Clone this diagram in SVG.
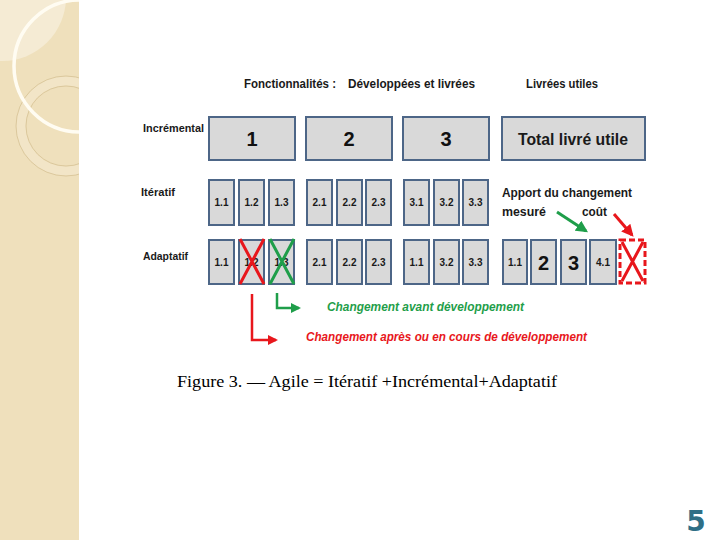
<svg xmlns="http://www.w3.org/2000/svg" width="720" height="540" viewBox="0 0 720 540">
<defs>
<style>
.bx{fill:#d9d9d9;stroke:#4d6687;stroke-width:2}
.lbl{font-family:"Liberation Sans",Arial,sans-serif;font-weight:bold;fill:#1a1a1a}
.sm{font-family:"Liberation Sans",Arial,sans-serif;font-weight:bold;font-size:10px;fill:#1a1a1a;text-anchor:middle}
.big{font-family:"Liberation Sans",Arial,sans-serif;font-weight:bold;font-size:20px;fill:#111;text-anchor:middle}
.xr{stroke:#e8171c;stroke-width:3;fill:none}
.xg{stroke:#1f9e4a;stroke-width:3;fill:none}
</style>
<marker id="ag" viewBox="0 0 10 10" refX="8" refY="5" markerWidth="4" markerHeight="4" orient="auto"><path d="M0,0L10,5L0,10z" fill="#1f9e4a"/></marker>
<marker id="ar" viewBox="0 0 10 10" refX="8" refY="5" markerWidth="4" markerHeight="4" orient="auto"><path d="M0,0L10,5L0,10z" fill="#e8171c"/></marker>
<clipPath id="side"><rect x="0" y="0" width="79" height="540"/></clipPath>
</defs>
<rect width="720" height="540" fill="#fff"/>
<g id="sidebar" clip-path="url(#side)">
<rect x="0" y="0" width="79" height="540" fill="#efe0bc"/>
<circle cx="2" cy="-3" r="64" fill="#f5ebd4"/>
<circle cx="66" cy="126" r="45" fill="none" stroke="#f2e5c7" stroke-width="9"/>
<circle cx="66" cy="126" r="50" fill="none" stroke="#d6c194" stroke-width="0.8"/>
<circle cx="66" cy="126" r="40" fill="none" stroke="#d6c194" stroke-width="0.8"/>
<circle cx="80" cy="66" r="66" fill="none" stroke="#fffcf2" stroke-width="3.5"/>
</g>
<g id="header" class="lbl" font-size="12">
<text x="244" y="88" textLength="92" lengthAdjust="spacingAndGlyphs">Fonctionnalités :</text>
<text x="348" y="88" textLength="127" lengthAdjust="spacingAndGlyphs">Développées et livrées</text>
<text x="526" y="88" textLength="72" lengthAdjust="spacingAndGlyphs">Livrées utiles</text>
</g>
<g id="rowlabels" class="lbl" font-size="11">
<text x="143" y="132" textLength="61" lengthAdjust="spacingAndGlyphs">Incrémental</text>
<text x="141" y="196" textLength="34" lengthAdjust="spacingAndGlyphs">Itératif</text>
<text x="143" y="260" textLength="45" lengthAdjust="spacingAndGlyphs">Adaptatif</text>
</g>
<g id="incremental">
<g id="inc1"><rect class="bx" x="209" y="117" width="86" height="43"/><text class="big" x="252" y="146">1</text></g>
<g id="inc2"><rect class="bx" x="306" y="117" width="86" height="43"/><text class="big" x="349" y="146">2</text></g>
<g id="inc3"><rect class="bx" x="403" y="117" width="86" height="43"/><text class="big" x="446" y="146">3</text></g>
<g id="total"><rect class="bx" x="502" y="117" width="143" height="43"/><text class="lbl" x="573" y="145" font-size="17" text-anchor="middle" textLength="110" lengthAdjust="spacingAndGlyphs">Total livré utile</text></g>
</g>
<g id="iteratif">
<g id="it11"><rect class="bx" x="209" y="180" width="25" height="45"/><text class="sm" x="221.5" y="206">1.1</text></g>
<g id="it12"><rect class="bx" x="239" y="180" width="25" height="45"/><text class="sm" x="251.5" y="206">1.2</text></g>
<g id="it13"><rect class="bx" x="269" y="180" width="25" height="45"/><text class="sm" x="281.5" y="206">1.3</text></g>
<g id="it21"><rect class="bx" x="307" y="180" width="25" height="45"/><text class="sm" x="319.5" y="206">2.1</text></g>
<g id="it22"><rect class="bx" x="337" y="180" width="25" height="45"/><text class="sm" x="349.5" y="206">2.2</text></g>
<g id="it23"><rect class="bx" x="366" y="180" width="25" height="45"/><text class="sm" x="378.5" y="206">2.3</text></g>
<g id="it31"><rect class="bx" x="404" y="180" width="25" height="45"/><text class="sm" x="416.5" y="206">3.1</text></g>
<g id="it32"><rect class="bx" x="434" y="180" width="25" height="45"/><text class="sm" x="446.5" y="206">3.2</text></g>
<g id="it33"><rect class="bx" x="463" y="180" width="25" height="45"/><text class="sm" x="475.5" y="206">3.3</text></g>
</g>
<g id="adaptatif">
<g id="ad11"><rect class="bx" x="209" y="240" width="25" height="44"/><text class="sm" x="221.5" y="266">1.1</text></g>
<g id="ad12"><rect class="bx" x="239" y="240" width="25" height="44"/><text class="sm" x="251.5" y="266">1.2</text><path class="xr" d="M240,239L264,284M264,239L240,284"/></g>
<g id="ad13"><rect class="bx" x="269" y="240" width="25" height="44"/><text class="sm" x="281.5" y="266">1.3</text><path class="xg" d="M270,239L294,284M294,239L270,284"/></g>
<g id="ad21"><rect class="bx" x="307" y="240" width="25" height="44"/><text class="sm" x="319.5" y="266">2.1</text></g>
<g id="ad22"><rect class="bx" x="337" y="240" width="25" height="44"/><text class="sm" x="349.5" y="266">2.2</text></g>
<g id="ad23"><rect class="bx" x="366" y="240" width="25" height="44"/><text class="sm" x="378.5" y="266">2.3</text></g>
<g id="ad31"><rect class="bx" x="404" y="240" width="25" height="44"/><text class="sm" x="416.5" y="266">1.1</text></g>
<g id="ad32"><rect class="bx" x="434" y="240" width="25" height="44"/><text class="sm" x="446.5" y="266">3.2</text></g>
<g id="ad33"><rect class="bx" x="463" y="240" width="25" height="44"/><text class="sm" x="475.5" y="266">3.3</text></g>
<g id="ad41"><rect class="bx" x="503" y="240" width="24" height="44"/><text class="sm" x="515" y="266" font-size="9">1.1</text></g>
<g id="ad42"><rect class="bx" x="531" y="240" width="25" height="44"/><text class="big" x="543.5" y="270" font-size="22">2</text></g>
<g id="ad43"><rect class="bx" x="561" y="240" width="25" height="44"/><text class="big" x="573.5" y="270" font-size="22">3</text></g>
<g id="ad44"><rect class="bx" x="590" y="240" width="26" height="44"/><text class="sm" x="603" y="266" font-size="9">4.1</text></g>
<g id="adx"><rect x="620" y="240" width="25" height="43" fill="none" stroke="#e8171c" stroke-width="3" stroke-dasharray="6,3"/><path class="xr" d="M622,242L643,281M643,242L622,281"/></g>
</g>
<g id="notes" class="lbl" font-size="12">
<text x="502" y="197" textLength="130" lengthAdjust="spacingAndGlyphs">Apport du changement</text>
<text x="502" y="216" textLength="44" lengthAdjust="spacingAndGlyphs">mesuré</text>
<text x="582" y="216" textLength="25" lengthAdjust="spacingAndGlyphs">coût</text>
</g>
<g id="connectors">
<path d="M557,212L586,231" stroke="#1f9e4a" stroke-width="3" fill="none" marker-end="url(#ag)"/>
<path d="M614,214L632,235" stroke="#e8171c" stroke-width="3" fill="none" marker-end="url(#ar)"/>
<path d="M277,293V308H299" stroke="#1f9e4a" stroke-width="2.5" fill="none" marker-end="url(#ag)"/>
<path d="M252,294V340H276" stroke="#e8171c" stroke-width="2.5" fill="none" marker-end="url(#ar)"/>
</g>
<g id="legend" font-family="'Liberation Sans',Arial,sans-serif" font-weight="bold" font-style="italic" font-size="12">
<text x="327" y="311" fill="#1f9e4a" textLength="197" lengthAdjust="spacingAndGlyphs">Changement avant développement</text>
<text x="306" y="341" fill="#e8171c" textLength="281" lengthAdjust="spacingAndGlyphs">Changement après ou en cours de développement</text>
</g>
<text id="caption" x="177" y="387" font-family="'Liberation Serif','Times New Roman',serif" font-size="16" fill="#000" textLength="380" lengthAdjust="spacingAndGlyphs">Figure 3. — Agile = Itératif +Incrémental+Adaptatif</text>
<text id="pagenum" x="696" y="531" font-family="'DejaVu Sans',sans-serif" font-weight="bold" font-size="28" fill="#2f6f86" text-anchor="middle">5</text>
</svg>
